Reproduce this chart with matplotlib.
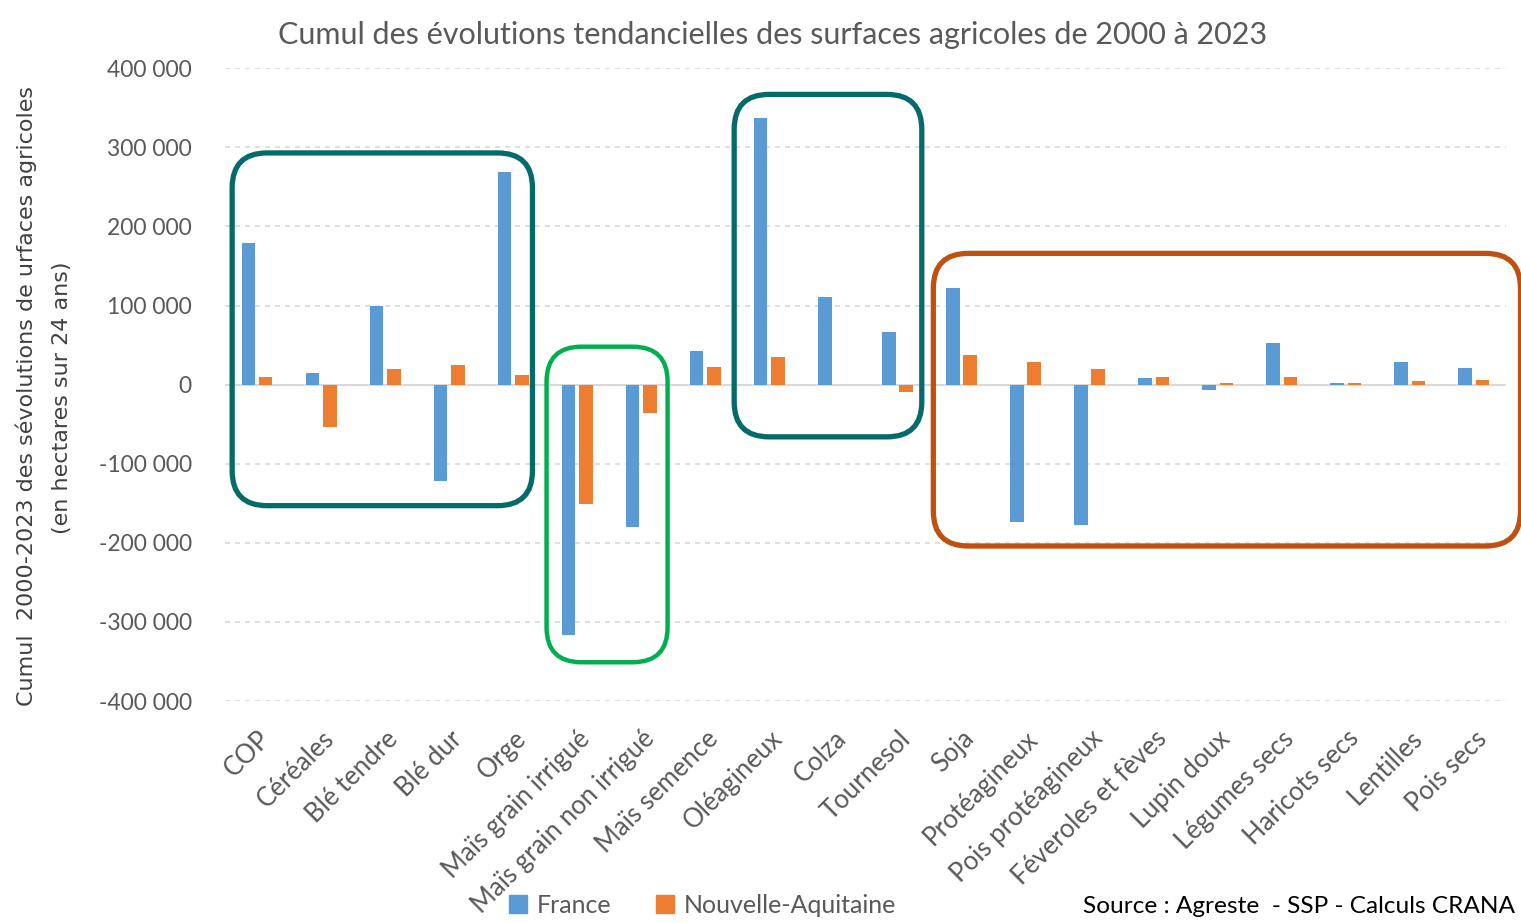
import numpy as np
import matplotlib
matplotlib.use('Agg')
import matplotlib.pyplot as plt
from matplotlib.patches import FancyBboxPatch, Patch
from matplotlib.transforms import IdentityTransform
from matplotlib.ticker import FuncFormatter

plt.rcParams['font.family'] = ['Lato', 'DejaVu Sans']

categories = ['COP', 'Céréales', 'Blé tendre', 'Blé dur', 'Orge',
              'Maïs grain irrigué', 'Maïs grain non irrigué', 'Maïs semence',
              'Oléagineux', 'Colza', 'Tournesol', 'Soja', 'Protéagineux',
              'Pois protéagineux', 'Féveroles et fèves', 'Lupin doux',
              'Légumes secs', 'Haricots secs', 'Lentilles', 'Pois secs']
france = [179000, 15000, 100000, -122000, 269000,
          -316000, -180000, 42000,
          337000, 111000, 66000, 122000, -174000,
          -178000, 8000, -7000,
          53000, 2000, 29000, 21000]
nouvelle_aquitaine = [10000, -54000, 20000, 25000, 12000,
                      -151000, -36000, 22000,
                      35000, -1000, -9000, 37000, 29000,
                      20000, 10000, 2000,
                      10000, 2000, 5000, 6000]
yticks = [-400000, -300000, -200000, -100000, 0, 100000, 200000, 300000, 400000]

blue = '#5B9BD5'
orange = '#ED7D31'
grey = '#595959'

fig = plt.figure(figsize=(15.21, 9.23), dpi=100)
ax = fig.add_axes([0.148, 0.2405, 0.842, 0.6855])

x = np.arange(len(categories))
w = 0.21
ax.bar(x - w / 2 - 0.03, france, w, color=blue, label='France', zorder=3)
ax.bar(x + w / 2 + 0.03, nouvelle_aquitaine, w, color=orange, label='Nouvelle-Aquitaine', zorder=3)

ax.set_xlim(-0.5, len(categories) - 0.5)
ax.set_ylim(-400000, 400000)
ax.set_yticks(yticks)
ax.yaxis.set_major_formatter(FuncFormatter(lambda v, p: f'{int(v):,}'.replace(',', ' ')))
ax.grid(axis='y', color='#D9D9D9', linestyle=(0, (3, 3)), linewidth=1.2, zorder=0)
ax.axhline(0, color='#D9D9D9', linewidth=1.5, zorder=2)
for s in ax.spines.values():
    s.set_visible(False)
ax.tick_params(axis='both', length=0, colors=grey)
ax.tick_params(axis='y', pad=24, labelsize=16.5)
ax.set_xticks(x)
ax.set_xticklabels(categories, rotation=45, ha='right', va='top', rotation_mode='anchor', fontsize=18.5)
ax.tick_params(axis='x', pad=18)

fig.text(0.508, 0.962, 'Cumul des évolutions tendancielles des surfaces agricoles de 2000 à 2023',
         ha='center', va='center', fontsize=22, color=grey)
fig.text(0.017, 0.571, 'Cumul  2000-2023 des sévolutions de urfaces agricoles',
         rotation=90, ha='center', va='center', fontsize=16, color='#404040', family='DejaVu Sans')
fig.text(0.041, 0.569, '(en hectares sur 24 ans)',
         rotation=90, ha='center', va='center', fontsize=16, color='#404040', family='DejaVu Sans')

handles = [Patch(color=blue), Patch(color=orange)]
fig.legend(handles, ['France', 'Nouvelle-Aquitaine'], loc='center', bbox_to_anchor=(0.462, 0.019),
           ncol=2, frameon=False, fontsize=18, handlelength=0.7, handleheight=0.7,
           handletextpad=0.4, columnspacing=1.8, labelcolor=grey)
fig.text(0.996, 0.018, 'Source : Agreste  - SSP - Calculs CRANA', ha='right', va='center',
         fontsize=17.6, color='black')


def box(x0, x1, y0, y1, color, lw):
    px0, py0 = ax.transData.transform((x0, y0))
    px1, py1 = ax.transData.transform((x1, y1))
    p = FancyBboxPatch((px0, py0), px1 - px0, py1 - py0,
                       boxstyle='round,pad=0,rounding_size=35',
                       transform=IdentityTransform(), fill=False,
                       edgecolor=color, linewidth=lw, zorder=5)
    fig.add_artist(p)


box(-0.39, 4.30, -153000, 293000, '#046A6A', 3.8)
box(4.52, 6.41, -351000, 48000, '#00B050', 3.2)
box(7.45, 10.38, -66000, 367000, '#046A6A', 3.8)
box(10.56, 19.73, -204000, 166000, '#C0500F', 3.8)

fig.savefig('out.png', dpi=100)
